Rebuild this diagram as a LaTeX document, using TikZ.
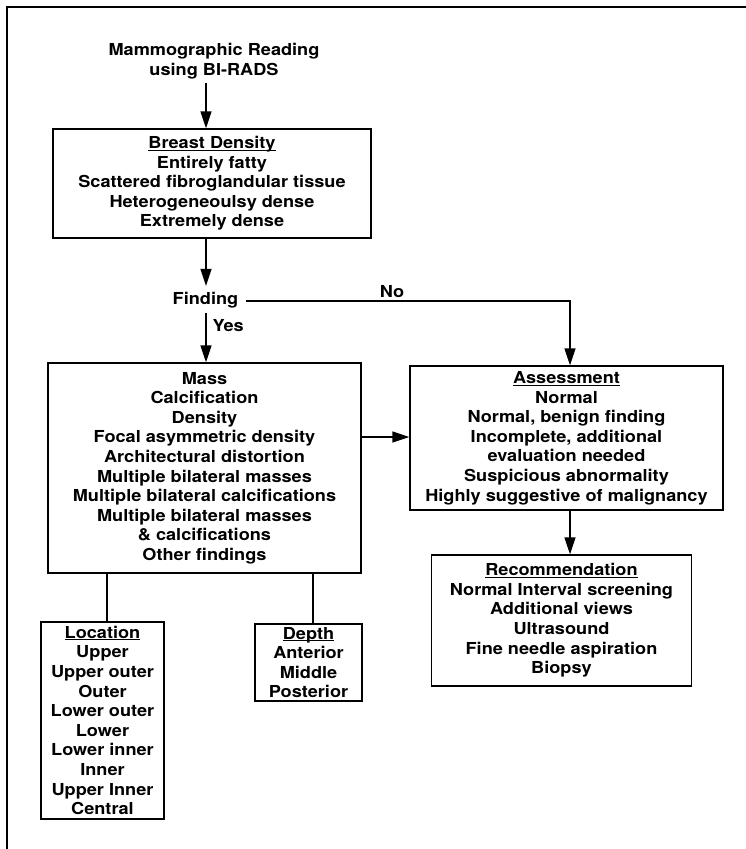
\documentclass[tikz,border=0pt]{standalone}
\usepackage{fontspec}
\setmainfont[FakeStretch=1.1]{TeX Gyre Heros}
\usetikzlibrary{arrows.meta}
\tikzset{
  every node/.style={font=\fontsize{16.5}{19.6}\selectfont\bfseries, align=center, inner sep=0pt},
  box/.style={draw, line width=1.4pt, minimum width=#1},
  conn/.style={line width=1.4pt},
  arr/.style={conn, -{Triangle[length=17pt,width=11pt]}},
}
\newcommand{\hd}[1]{\underline{\smash{#1}}\vphantom{Ay}}
\begin{document}
\begin{tikzpicture}[x=1pt,y=1pt]
\useasboundingbox (0,0) rectangle (746,-849);
\draw[line width=2pt] (7,-849) -- (7,-7) -- (746,-7);

\node (title) at (214,-61) {Mammographic Reading\\using BI-RADS};

\node[box=318pt, minimum height=109pt] (bd) at (212,-183.5)
  {\hd{Breast Density}\\Entirely fatty\\Scattered fibroglandular tissue\\Heterogeneoulsy dense\\Extremely dense};

\node (finding) at (205.5,-300) {Finding};

\node[box=313pt, minimum height=210pt] (find) at (204.5,-468)
  {Mass\\Calcification\\Density\\Focal asymmetric density\\Architectural distortion\\Multiple bilateral masses\\Multiple bilateral calcifications\\Multiple bilateral masses\\\& calcifications\\Other findings};

\node[box=313pt, minimum height=144pt] (assess) at (566.5,-438)
  {\hd{Assessment}\\Normal\\Normal, benign finding\\Incomplete, additional\\evaluation needed\\Suspicious abnormality\\Highly suggestive of malignancy};

\node[box=260pt, minimum height=131pt] (rec) at (561.5,-620.5)
  {\hd{Recommendation}\\Normal Interval screening\\Additional views\\Ultrasound\\Fine needle aspiration\\Biopsy};

\node[box=123pt, minimum height=197pt] (loc) at (102.5,-720.5)
  {\hd{Location}\\Upper\\Upper outer\\Outer\\Lower outer\\Lower\\Lower inner\\Inner\\Upper Inner\\Central};

\node[box=107pt, minimum height=77pt] (depth) at (308.5,-662.5)
  {\hd{Depth}\\Anterior\\Middle\\Posterior};

\coordinate (cx) at (206,0);
\coordinate (nx) at (570,-301);
\coordinate (lx) at (107,0);
\coordinate (dx) at (313,0);
\coordinate (ay) at (0,-437);

\draw[arr] ([yshift=-4pt]title.south -| cx) -- (bd.north -| cx);
\draw[arr] (bd.south -| cx) -- ([yshift=6pt]finding.north -| cx);
\draw[arr] ([yshift=-5pt]finding.south -| cx) -- node[right=6pt, pos=0.25] (yes) {Yes} (find.north -| cx);
\draw[arr] ([xshift=8pt]finding.east |- nx) -- node[above=3pt, pos=0.45] (no) {No} (nx) -- (assess.north -| nx);
\draw[arr] (find.east |- ay) -- (assess.west |- ay);
\draw[arr] (assess.south -| nx) -- (rec.north -| nx);
\draw[conn] (find.south -| lx) -- (loc.north -| lx);
\draw[conn] (find.south -| dx) -- (depth.north -| dx);
\end{tikzpicture}
\end{document}
